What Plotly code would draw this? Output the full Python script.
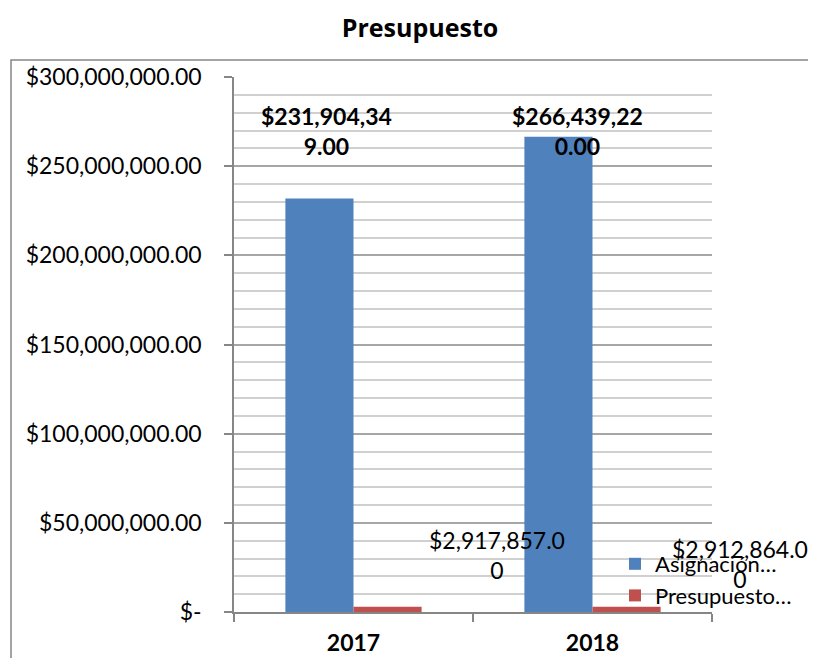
import plotly.graph_objects as go

categories = ["2017", "2018"]
asignacion = [231904349.00, 266439220.00]
presupuesto = [2917857.00, 2912864.00]
series_names = ["Asignación…", "Presupuesto…"]
ytick_vals = [0, 50e6, 100e6, 150e6, 200e6, 250e6, 300e6]
ytick_text = ["$-", "$50,000,000.00", "$100,000,000.00", "$150,000,000.00",
              "$200,000,000.00", "$250,000,000.00", "$300,000,000.00"]

FONT = "Lato, Carlito, Calibri, sans-serif"
TFONT = "Open Sans, Lato, sans-serif"
BLUE = "#4F81BD"
RED = "#C0504D"
FS = 23


def money_wrapped(v, width):
    s = f"${v:,.2f}"
    return s[:width] + "<br>" + s[width:]


fig = go.Figure()
fig.add_trace(go.Bar(x=categories, y=asignacion, name=series_names[0],
                     marker=dict(color=BLUE, line=dict(width=0))))
fig.add_trace(go.Bar(x=categories, y=presupuesto, name=series_names[1],
                     marker=dict(color=RED, line=dict(width=0))))

# data labels (Excel-like placement)
blue_label_y = 269.5e6
blue_dx = [-27, -15]
for i, (v, dx) in enumerate(zip(asignacion, blue_dx)):
    fig.add_annotation(x=i, y=blue_label_y, xref="x", yref="y", xshift=dx,
                       text=money_wrapped(v, 11), showarrow=False,
                       font=dict(family=FONT, size=FS, color="black", weight="bold"),
                       align="center")
red_pos = [(143, 32e6), (147, 27e6)]
for i, (v, (dx, yy)) in enumerate(zip(presupuesto, red_pos)):
    fig.add_annotation(x=i, y=yy, xref="x", yref="y", xshift=dx,
                       text=money_wrapped(v, 12), showarrow=False,
                       font=dict(family=FONT, size=FS, color="black"), align="center")

# chart frame
fig.add_shape(type="rect", xref="paper", yref="paper", x0=-0.4665, y0=-1, x1=2, y1=1.0318,
              line=dict(color="#868686", width=1.5), fillcolor="rgba(0,0,0,0)", layer="below")

fig.update_layout(
    width=800, height=650,
    margin=dict(l=226, r=96, t=69, b=46, autoexpand=False),
    paper_bgcolor="white", plot_bgcolor="white",
    font=dict(family=FONT, size=FS, color="black"),
    title=dict(text="Presupuesto", x=(420 - 8 - 226) / 478, xref="paper", xanchor="center",
               y=1 - 20 / 650, yanchor="middle",
               font=dict(family=TFONT, size=25, weight="bold")),
    barmode="group", bargap=0.43, bargroupgap=0,
    showlegend=True,
    legend=dict(x=607 / 800, y=(650 - 572) / 650, xref="container", yref="container",
                xanchor="left", yanchor="middle",
                bgcolor="rgba(0,0,0,0)", font=dict(family=FONT, size=22),
                itemwidth=30, tracegroupgap=0, traceorder="normal"),
)
fig.update_yaxes(range=[0, 300e6], tickvals=ytick_vals, ticktext=ytick_text,
                 showline=True, linecolor="#868686", linewidth=1.5,
                 ticks="outside", ticklen=8, tickcolor="#868686", tickwidth=1.5,
                 showgrid=True, gridcolor="#a6a6a6", gridwidth=1.5,
                 minor=dict(dtick=10e6, showgrid=True, gridcolor="#d0d0d0", gridwidth=1.5),
                 ticklabelstandoff=18, zeroline=False, automargin=False,
                 tickfont=dict(family=FONT, size=FS))
fig.update_xaxes(type="category", range=[-0.5, 1.5], showline=True,
                 linecolor="#868686", linewidth=1.5,
                 ticks="outside", ticklen=8, tickcolor="#868686", tickwidth=1.5,
                 tickson="boundaries", showgrid=False, tickangle=0,
                 ticklabelstandoff=10, automargin=False,
                 tickfont=dict(family=FONT, size=FS, weight="bold"))

fig.write_html("out.html")
